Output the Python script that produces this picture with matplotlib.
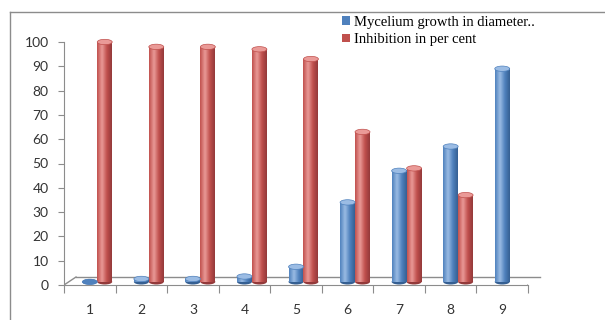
import numpy as np
import matplotlib
matplotlib.use('Agg')
import matplotlib.pyplot as plt
from matplotlib.colors import LinearSegmentedColormap
from matplotlib.patches import Ellipse, Rectangle
from matplotlib.transforms import ScaledTranslation
from matplotlib.lines import Line2D

categories = ['1', '2', '3', '4', '5', '6', '7', '8', '9']
mycelium = [0, 2.5, 2.5, 3.5, 7.5, 34, 47, 57, 89]
inhibition = [100, 98, 98, 97, 93, 63, 48, 37, np.nan]
series_names = ['Mycelium growth in diameter..', 'Inhibition in per cent']

# base, light, dark for each series
blue = ('#4F81BD', '#9BBCE4', '#355F92')
red = ('#C0504D', '#EA9A97', '#93393A')

W, H = 605, 320
fig = plt.figure(figsize=(W / 100, H / 100), dpi=100)
fig.patch.set_facecolor('white')

# outer chart frame
fig.add_artist(Line2D([10 / W, 1], [1 - 12 / H, 1 - 12 / H], color='#8C8C8C', lw=1))
fig.add_artist(Line2D([10 / W, 10 / W], [0, 1 - 12 / H], color='#8C8C8C', lw=1))

ax = fig.add_axes([64 / W, 1 - 285 / H, (528 - 64) / W, (285 - 42) / H])
ax.set_facecolor('none')

x = np.arange(1, len(categories) + 1)
bw = 0.29
cap_h = 2.2
b0 = cap_h / 2 + 0.2   # cylinders stand on the floor, not below it


def cylinder(xc, val, cols):
    if np.isnan(val):
        return
    base, light, dark = cols
    cmap = LinearSegmentedColormap.from_list('c', [base, light, base, dark])
    grad = np.linspace(0, 1, 64).reshape(1, -1)
    x0, x1 = xc - bw / 2, xc + bw / 2
    top = max(val, b0)
    ax.add_patch(Ellipse((xc, b0), bw, cap_h, facecolor=dark, edgecolor='none',
                         zorder=2, clip_on=False))
    if top > b0:
        ax.imshow(grad, cmap=cmap, extent=(x0, x1, b0, top), aspect='auto',
                  interpolation='bicubic', zorder=3, clip_on=False)
    ax.add_patch(Ellipse((xc, top), bw, cap_h, facecolor=light if top > b0 else base,
                         edgecolor=base, lw=0.5, zorder=4, clip_on=False))


for xi, v in zip(x, mycelium):
    cylinder(xi, v, blue)
for xi, v in zip(x, inhibition):
    cylinder(xi + bw, v, red)

ax.set_xlim(0.5, 9.5)
ax.set_ylim(0, 100)

# floor (3D base)
off = ScaledTranslation(12 / 100, 8 / 100, fig.dpi_scale_trans)
ax.plot([0.5, 9.5], [0, 0], color='#8C8C8C', lw=1, transform=ax.transData + off,
        clip_on=False, zorder=1)
for xe in (0.5, 9.5):
    p0 = ax.transData.transform((xe, 0))
    p1 = (ax.transData + off).transform((xe, 0))
    ax.add_artist(Line2D([p0[0], p1[0]], [p0[1], p1[1]], transform=None,
                         color='#8C8C8C', lw=1, zorder=1))

for s in ('top', 'right'):
    ax.spines[s].set_visible(False)
for s in ('left', 'bottom'):
    ax.spines[s].set_color('#8C8C8C')

ax.set_yticks(np.arange(0, 101, 10))
ax.set_xticks(np.arange(0.5, 10, 1))
ax.set_xticklabels([])
ax.set_xticks(x, minor=True)
ax.set_xticklabels(categories, minor=True)
ax.tick_params(axis='x', which='major', length=6, color='#8C8C8C')
ax.tick_params(axis='x', which='minor', length=0, pad=14, labelsize=10,
               labelcolor='#333333')
ax.tick_params(axis='y', length=4, color='#8C8C8C', pad=7, labelsize=10,
               labelcolor='#333333')
for lab in ax.get_xticklabels(minor=True) + ax.get_yticklabels():
    lab.set_family('Lato')

handles = [Rectangle((0, 0), 1, 1, facecolor=blue[0]),
           Rectangle((0, 0), 1, 1, facecolor=red[0])]
fig.legend(handles, series_names, loc='upper left',
           bbox_to_anchor=(336 / W, 1 - 10 / H), frameon=False,
           prop={'family': 'Liberation Serif', 'size': 10.5},
           handlelength=0.55, handleheight=0.55, handletextpad=0.3,
           labelspacing=0.3, borderaxespad=0)

fig.savefig('out.png', dpi=100)
